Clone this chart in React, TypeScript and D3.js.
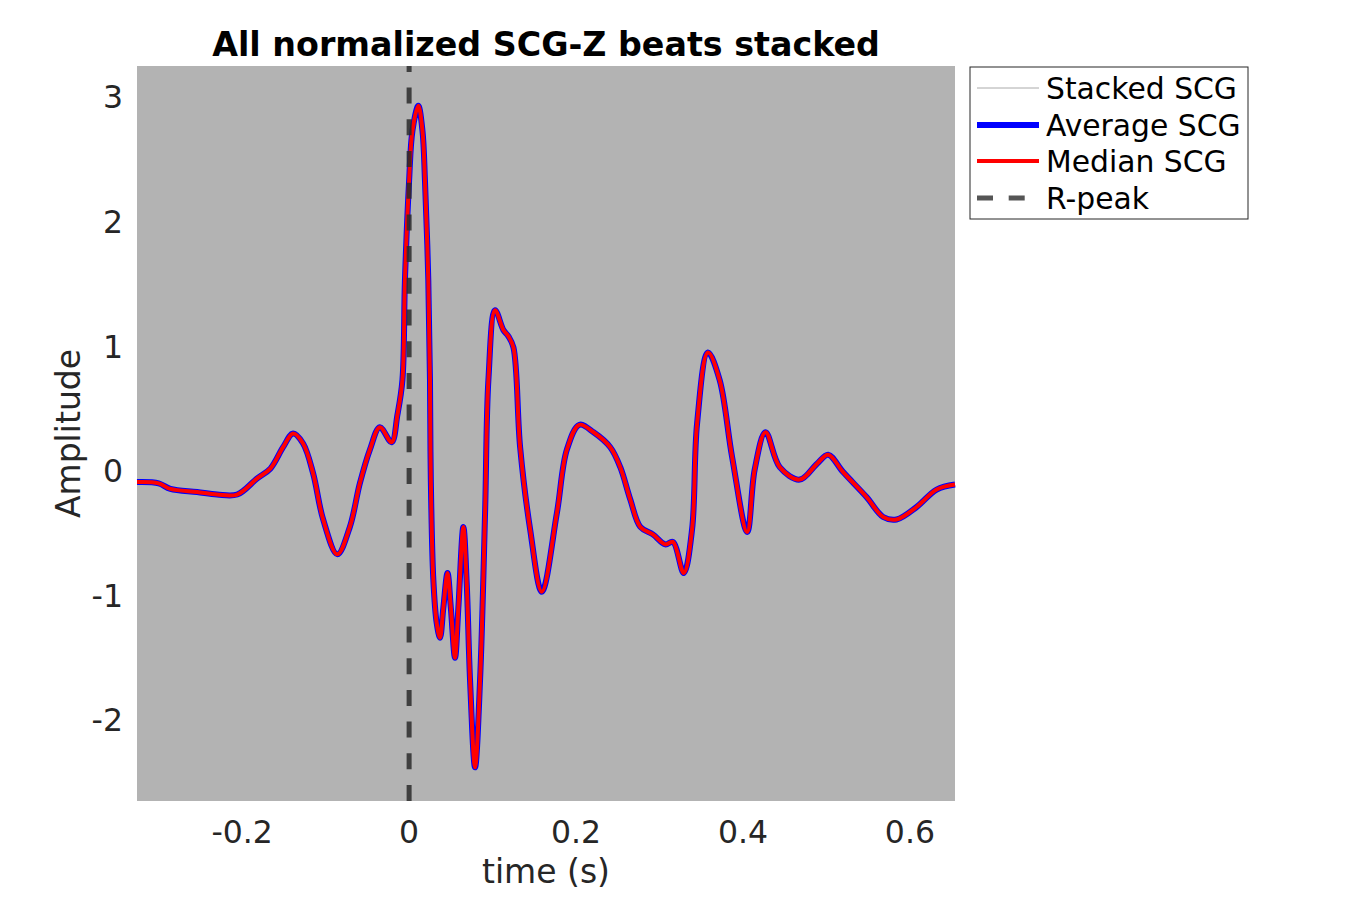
import * as d3 from 'd3';

// Beat-aligned time axis (s) and the averaged / median SCG-Z amplitude
const timeSec = [
  -0.326, -0.3, -0.286, -0.254, -0.23, -0.206, -0.182, -0.166, -0.151, -0.139,
  -0.127, -0.115, -0.103, -0.086, -0.071, -0.059, -0.047, -0.035, -0.021, -0.014,
  -0.008, -0.005, 0, 0.004, 0.011, 0.016, 0.019, 0.023, 0.025, 0.026,
  0.029, 0.033, 0.037, 0.041, 0.046, 0.05, 0.055, 0.059, 0.065, 0.069,
  0.073, 0.079, 0.085, 0.091, 0.095, 0.103, 0.113, 0.119, 0.125, 0.133,
  0.145, 0.159, 0.177, 0.189, 0.204, 0.221, 0.241, 0.253, 0.265, 0.277,
  0.292, 0.307, 0.316, 0.329, 0.339, 0.345, 0.358, 0.372, 0.387, 0.405,
  0.414, 0.427, 0.444, 0.468, 0.489, 0.502, 0.52, 0.548, 0.568, 0.584,
  0.608, 0.632, 0.654,
];

const averageScg = [
  -0.09, -0.1, -0.145, -0.17, -0.19, -0.19, -0.06, 0.02, 0.19, 0.3,
  0.22, -0.02, -0.39, -0.67, -0.45, -0.1, 0.17, 0.35, 0.23, 0.45,
  0.73, 1.53, 2.33, 2.73, 2.93, 2.73, 2.33, 1.53, 0.73, -0.07,
  -0.87, -1.22, -1.34, -1.1, -0.82, -1.1, -1.5, -1.1, -0.45, -0.9,
  -1.68, -2.38, -1.68, -0.34, 0.73, 1.29, 1.13, 1.08, 0.99, 0.19,
  -0.47, -0.97, -0.34, 0.17, 0.37, 0.31, 0.19, 0.03, -0.23, -0.45,
  -0.51, -0.59, -0.57, -0.82, -0.47, 0.38, 0.95, 0.73, 0.11, -0.49,
  0.01, 0.31, 0.03, -0.07, 0.06, 0.13, -0.01, -0.21, -0.37, -0.39,
  -0.29, -0.15, -0.11,
];

// median beat is visually identical to the average
const medianScg = averageScg;

const xTicks = [-0.2, 0, 0.2, 0.4, 0.6];
const yTicks = [-2, -1, 0, 1, 2, 3];
const legendItems = ['Stacked SCG', 'Average SCG', 'Median SCG', 'R-peak'];

const W = 1350;
const H = 900;
const margin = { left: 137, right: 395, top: 66, bottom: 99 };
const TEXT = '#262626';
const FONT = 'DejaVu Sans, sans-serif';

export default function App() {
  const x = d3.scaleLinear().domain([-0.326, 0.654]).range([margin.left, W - margin.right]);
  const y = d3.scaleLinear().domain([-2.65, 3.25]).range([H - margin.bottom, margin.top]);

  const line = d3
    .line<number>()
    .x((_, i) => x(timeSec[i]))
    .y((d) => y(d))
    .curve(d3.curveCatmullRom.alpha(0.5));

  const [x0, x1] = x.range();
  const [y0, y1] = y.range(); // y0 bottom, y1 top
  const cx = (x0 + x1) / 2;

  const legend = { x: 970, y: 67, w: 278, h: 152 };
  const rowY = [88, 125, 161, 198];

  return (
    <svg
      width={W}
      height={H}
      style={{ position: 'absolute', left: 0, top: 0, background: '#fff' }}
      fontFamily={FONT}
    >
      {/* stacked beats: dense enough to fill the axes */}
      <rect x={x0} y={y1} width={x1 - x0} height={y0 - y1} fill="#b3b3b3" />

      <path d={line(averageScg) ?? ''} fill="none" stroke="#0000ff" strokeWidth={6} strokeLinejoin="round" />
      <path d={line(medianScg) ?? ''} fill="none" stroke="#ff0000" strokeWidth={4} strokeLinejoin="round" />

      {/* R-peak marker */}
      <line
        x1={x(0)}
        x2={x(0)}
        y1={y0}
        y2={y1}
        stroke="#2a2a2a"
        strokeOpacity={0.85}
        strokeWidth={5}
        strokeDasharray="16 15.7"
      />

      {/* x axis */}
      {xTicks.map((t) => (
        <text key={t} x={x(t)} y={843} textAnchor="middle" fontSize={31.5} fill={TEXT}>
          {String(t)}
        </text>
      ))}
      {/* y axis */}
      {yTicks.map((t) => (
        <text key={t} x={123} y={y(t)} dy="0.36em" textAnchor="end" fontSize={31.5} fill={TEXT}>
          {String(t)}
        </text>
      ))}

      <text x={cx} y={883} textAnchor="middle" fontSize={33} fill={TEXT}>
        time (s)
      </text>
      <text
        transform={`translate(80,${(y0 + y1) / 2}) rotate(-90)`}
        textAnchor="middle"
        fontSize={33}
        fill={TEXT}
      >
        Amplitude
      </text>
      <text x={cx} y={56} textAnchor="middle" fontSize={33.3} fontWeight="bold" fill="#000">
        All normalized SCG-Z beats stacked
      </text>

      {/* legend */}
      <rect x={legend.x} y={legend.y} width={legend.w} height={legend.h} fill="#fff" stroke={TEXT} strokeWidth={1} />
      <line x1={977} x2={1039} y1={rowY[0]} y2={rowY[0]} stroke="#aaaaaa" strokeWidth={1} />
      <line x1={977} x2={1039} y1={rowY[1]} y2={rowY[1]} stroke="#0000ff" strokeWidth={6} />
      <line x1={977} x2={1039} y1={rowY[2]} y2={rowY[2]} stroke="#ff0000" strokeWidth={4} />
      <line x1={977} x2={1039} y1={rowY[3]} y2={rowY[3]} stroke="#555" strokeWidth={5} strokeDasharray="16 15.7" />
      {legendItems.map((label, i) => (
        <text key={label} x={1046} y={rowY[i]} dy="0.36em" fontSize={29.8} fill="#000">
          {label}
        </text>
      ))}
    </svg>
  );
}
